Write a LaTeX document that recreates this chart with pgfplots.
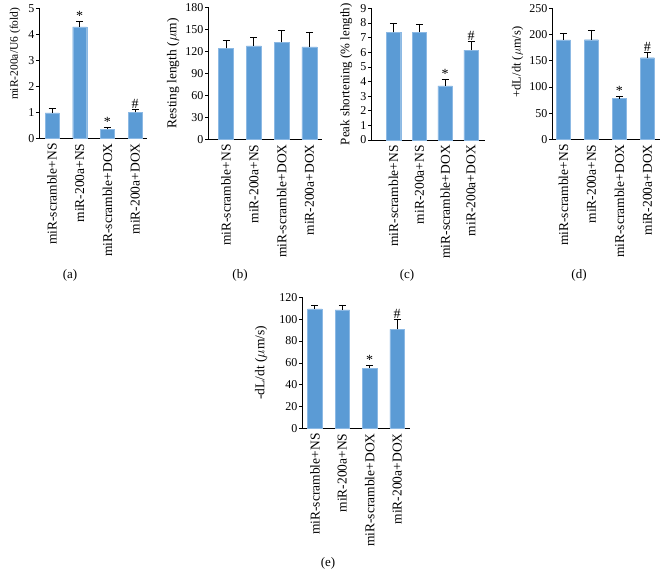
\documentclass[border=0pt]{standalone}
\usepackage{fontspec}
\setmainfont{Liberation Serif}
\usepackage{pgfplots}
\pgfplotsset{compat=1.18}
\definecolor{barblue}{RGB}{91,155,213}
\definecolor{baredge}{RGB}{140,185,228}
\pgfplotsset{
  panel/.style={
    scale only axis,
    anchor=south west,
    ybar,
    bar width=14pt,
    bar shift=0pt,
    ymin=0,
    axis lines=left,
    axis line style={-, black, line width=0.7pt},
    xtick={0,1,2,3},
    xticklabels={miR-scramble+NS, miR-200a+NS, miR-scramble+DOX, miR-200a+DOX},
    xtick style={draw=none},
    xticklabel style={rotate=90, anchor=east, font=\fontsize{13.5}{14}\selectfont, inner sep=2pt},
    ytick style={black, line width=0.6pt},
    tick align=outside,
    major tick length=3pt,
    yticklabel style={font=\fontsize{12}{12}\selectfont, inner sep=1.5pt},
    /pgf/number format/assume math mode=true,
    ylabel style={font=\fontsize{13}{14}\selectfont, yshift=1pt},
    clip=false,
    enlarge y limits=false,
  },
  bars/.style={
    fill=barblue, draw=baredge, line width=0.4pt,
    /pgfplots/error bars/y dir=plus,
    /pgfplots/error bars/y explicit,
    /pgfplots/error bars/error bar style={black, line width=0.8pt},
    /pgfplots/error bars/error mark options={black, line width=0.8pt, mark size=3.5pt, rotate=90},
  },
  sig/.style={
    draw=none, mark=none, nodes near coords, point meta=explicit symbolic,
    every node near coord/.style={anchor=south, inner sep=0.5pt, font=\fontsize{14}{14}\selectfont, black},
  },
}
\begin{document}
\begin{tikzpicture}
\path[use as bounding box] (0,0) rectangle (661pt,581pt);

% (a)
\begin{axis}[panel, at={(39pt,442.7pt)}, width=108pt, height=130pt,
  xmin=-0.47, xmax=3.43, ymax=5, ytick={0,1,2,3,4,5},
  ylabel={miR-200a/U6 (fold)},
  ylabel style={font=\fontsize{11.5}{12}\selectfont, at={(ticklabel cs:0.65)}, yshift=2pt}]
\addplot[bars] coordinates {(0,0.98) +- (0,0.17) (1,4.29) +- (0,0.22) (2,0.35) +- (0,0.06) (3,1.00) +- (0,0.12)};
\addplot[sig] coordinates {(1,4.51)[*] (2,0.41)[*] (3,1.12)[\#]};
\end{axis}

% (b)
\begin{axis}[panel, at={(208pt,441.7pt)}, width=114pt, height=132pt,
  xmin=-0.65, xmax=3.45, ymax=180, ytick={0,30,60,90,120,150,180},
  ylabel={Resting length ($\mu$m)}, ylabel style={font=\fontsize{13.5}{14}\selectfont}]
\addplot[bar width=15pt, bars] coordinates {(0,124) +- (0,10.5) (1,127.3) +- (0,11.7) (2,132) +- (0,16) (3,126) +- (0,19.5)};
\end{axis}

% (c)
\begin{axis}[panel, at={(371pt,441pt)}, width=114pt, height=131.7pt,
  xmin=-0.87, xmax=3.54, ymax=9, ytick={0,1,2,3,4,5,6,7,8,9},
  ylabel={Peak shortening (\% length)}, ylabel style={yshift=2pt}]
\addplot[bar width=14.5pt, bars] coordinates {(0,7.36) +- (0,0.61) (1,7.38) +- (0,0.55) (2,3.69) +- (0,0.46) (3,6.15) +- (0,0.60)};
\addplot[sig] coordinates {(2,4.15)[*] (3,6.75)[\#]};
\end{axis}

% (d)
\begin{axis}[panel, at={(552pt,441.7pt)}, width=108pt, height=131pt,
  xmin=-0.41, xmax=3.45, ymax=250, ytick={0,50,100,150,200,250},
  ylabel={+dL/dt ($\mu$m/s)},
  ylabel style={font=\fontsize{12.5}{13}\selectfont, at={(ticklabel cs:0.59)}}]
\addplot[bars] coordinates {(0,189.5) +- (0,12) (1,190) +- (0,18.6) (2,77.5) +- (0,3.8) (3,155.7) +- (0,10.3)};
\addplot[sig] coordinates {(2,81.3)[*] (3,166)[\#]};
\end{axis}

% (e)
\begin{axis}[panel, at={(302pt,152.7pt)}, width=108pt, height=131pt,
  xmin=-0.47, xmax=3.47, ymax=120, ytick={0,20,40,60,80,100,120},
  ylabel={-dL/dt ($\mu$m/s)}, ylabel style={font=\fontsize{13.5}{14}\selectfont, yshift=6pt}]
\addplot[bar width=14.5pt, bars] coordinates {(0,109.5) +- (0,3.5) (1,108.5) +- (0,4.5) (2,55.2) +- (0,2.8) (3,90.7) +- (0,9.1)};
\addplot[sig] coordinates {(2,58)[*] (3,99.8)[\#]};
\end{axis}

\node[font=\fontsize{13}{13}\selectfont] at (70pt,306pt) {(a)};
\node[font=\fontsize{13}{13}\selectfont] at (240pt,306pt) {(b)};
\node[font=\fontsize{13}{13}\selectfont] at (407pt,306pt) {(c)};
\node[font=\fontsize{13}{13}\selectfont] at (579pt,306pt) {(d)};
\node[font=\fontsize{13}{13}\selectfont] at (328pt,18pt) {(e)};
\end{tikzpicture}
\end{document}
